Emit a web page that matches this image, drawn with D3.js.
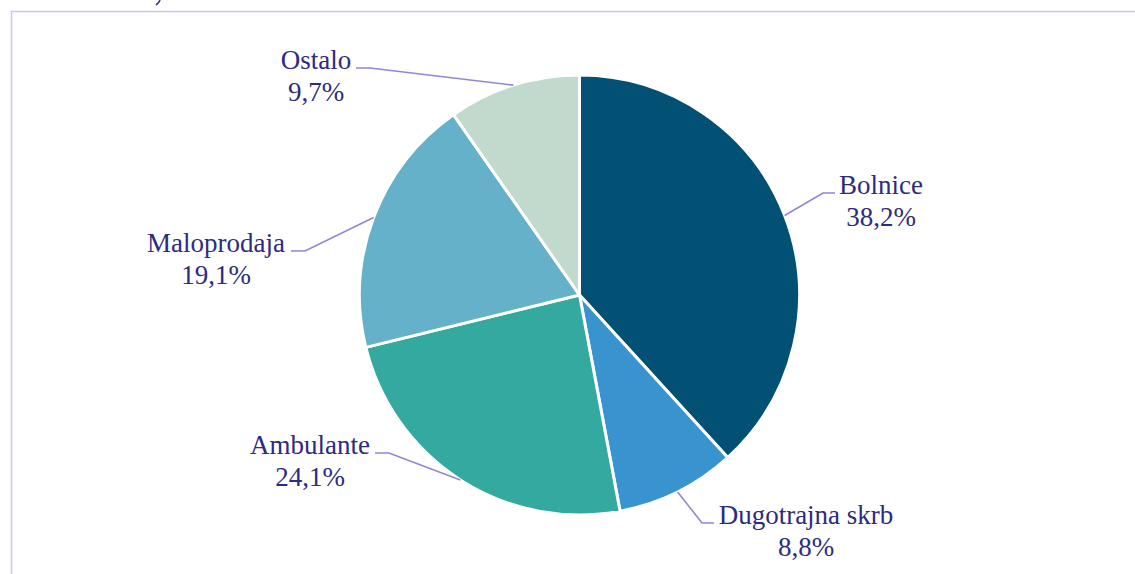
<!DOCTYPE html>
<html>
<head>
<meta charset="utf-8">
<script src="https://cdn.jsdelivr.net/npm/d3@7/dist/d3.min.js"></script>
<style>
  body { margin: 0; background: #fff; }
  svg { display: block; }
  .lbl { font-family: "Times New Roman", Tinos, "Liberation Serif", Times, FreeSerif, serif; }
</style>
</head>
<body>
<svg id="chart" width="1135" height="574"></svg>
<script>
const categories = ['Bolnice', 'Dugotrajna skrb', 'Ambulante', 'Maloprodaja', 'Ostalo']
const shares = [38.2, 8.8, 24.1, 19.1, 9.7]
const shareLabels = ['38,2%', '8,8%', '24,1%', '19,1%', '9,7%']
const colours = ['#025073', '#3993cf', '#34a9a0', '#65b1c9', '#c2d9cd']

// label layout: centre x of text, first baseline y, half width of the name line
const labelPos = [
	{ x: 881, y: 194, half: 42 },
	{ x: 806, y: 524, half: 88 },
	{ x: 310, y: 454, half: 61 },
	{ x: 216, y: 252, half: 71 },
	{ x: 316, y: 69, half: 36 }
]

const width = 1135
const height = 574
const cx = 579.5
const cy = 295
const radius = 220

const $svg = d3.select('#chart')

// frame
$svg.append('rect')
	.attr('x', 11.5)
	.attr('y', 11.5)
	.attr('width', width + 20)
	.attr('height', height + 20)
	.attr('fill', 'none')
	.attr('stroke', '#cac6ee')
	.attr('stroke-width', 1.5)

// tail of a glyph from the title above the frame
$svg.append('path')
	.attr('d', 'M160,0 Q159,3 156,5')
	.attr('fill', 'none')
	.attr('stroke', '#3a3590')
	.attr('stroke-width', 1.6)

const data = categories.map((name, i) => ({
	name,
	value: shares[i],
	label: shareLabels[i],
	colour: colours[i],
	pos: labelPos[i]
}))

const pie = d3.pie()
	.sort(null)
	.value(d => d.value)

const arc = d3.arc()
	.innerRadius(0)
	.outerRadius(radius)

const arcs = pie(data)

const $g = $svg.append('g')
	.attr('transform', `translate(${cx},${cy})`)

$g.selectAll('path.slice')
	.data(arcs)
	.enter()
	.append('path')
	.attr('class', 'slice')
	.attr('d', arc)
	.attr('fill', d => d.data.colour)
	.attr('stroke', '#fff')
	.attr('stroke-width', 3)
	.attr('stroke-linejoin', 'round')

// leader lines
const $leaders = $svg.append('g')

arcs.forEach(d => {
	const p = d.data.pos
	const mid = (d.startAngle + d.endAngle) / 2
	const ax = cx + radius * Math.sin(mid)
	const ay = cy - radius * Math.cos(mid)
	const leftSide = p.x < ax
	const edge = leftSide ? p.x + p.half + 4 : p.x - p.half - 4
	const elbow = leftSide ? edge + 14 : edge - 12

	$leaders.append('path')
		.attr('d', d3.line()([[ax, ay], [elbow, p.y - 1], [edge, p.y - 1]]))
		.attr('fill', 'none')
		.attr('stroke', '#8f86dc')
		.attr('stroke-width', 1.6)
})

// labels
const $labels = $svg.append('g')
	.attr('class', 'lbl')

arcs.forEach(d => {
	const p = d.data.pos
	$labels.append('text')
		.attr('class', 'lbl')
		.attr('x', p.x)
		.attr('y', p.y)
		.attr('text-anchor', 'middle')
		.attr('font-size', 27)
		.attr('fill', '#2e2a80')
		.text(d.data.name)

	$labels.append('text')
		.attr('class', 'lbl')
		.attr('x', p.x)
		.attr('y', p.y + 32)
		.attr('text-anchor', 'middle')
		.attr('font-size', 27)
		.attr('fill', '#2e2a80')
		.text(d.data.label)
})
</script>
</body>
</html>
